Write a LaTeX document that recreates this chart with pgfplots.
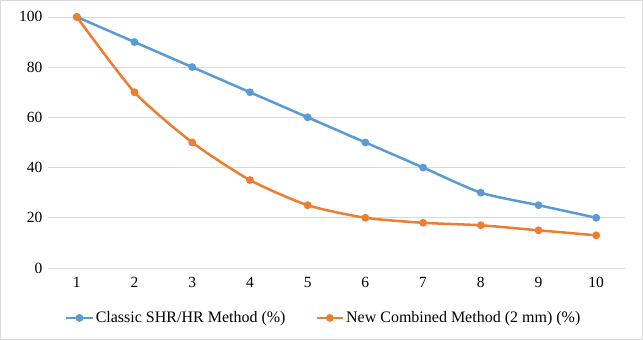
\documentclass[border=0pt]{standalone}
\usepackage{pgfplots}
\pgfplotsset{compat=1.18}
\usepackage{fontspec}
\setmainfont{Liberation Serif}
\definecolor{cblue}{HTML}{5B9BD5}
\definecolor{corange}{HTML}{ED7D31}
\definecolor{cgrid}{HTML}{D9D9D9}
\begin{document}
\begin{tikzpicture}
\draw[cgrid, line width=0.8pt, fill=white] (0.5pt,0.5pt) rectangle (642.5pt,339.5pt);
\begin{axis}[
  at={(48pt,72pt)}, anchor=south west,
  scale only axis, width=577pt, height=251pt,
  xmin=0.5, xmax=10.5, ymin=0, ymax=100,
  xtick={1,...,10}, ytick={0,20,...,100},
  axis line style={draw=none},
  major tick style={draw=none},
  ymajorgrids, grid style={cgrid, line width=0.8pt},
  clip=false,
  tick label style={font=\fontsize{15.5}{17}\selectfont, /pgf/number format/assume math mode=true},
  xticklabel style={yshift=-6pt},
  yticklabel style={xshift=-2pt},
  legend columns=2,
  legend style={at={(0.478,-0.199)}, anchor=center, draw=none, fill=none,
    font=\fontsize{16}{18}\selectfont,
    /tikz/every even column/.append style={column sep=28pt}},
  legend image code/.code={
    \draw[#1, line width=2.5pt] (0pt,0pt) -- (26pt,0pt);
    \fill[#1] (13pt,0pt) circle (2.6pt);
  },
]
\addplot[cblue, line width=2.5pt, smooth, tension=0.4, mark=*, mark size=2.6pt, mark options={fill=cblue, draw=cblue}]
  coordinates {(1,100) (2,90) (3,80) (4,70) (5,60) (6,50) (7,40) (8,30) (9,25) (10,20)};
\addlegendentry{Classic SHR/HR Method (\%)}
\addplot[corange, line width=2.5pt, smooth, tension=0.4, mark=*, mark size=2.6pt, mark options={fill=corange, draw=corange}]
  coordinates {(1,100) (2,70) (3,50) (4,35) (5,25) (6,20) (7,18) (8,17) (9,15) (10,13)};
\addlegendentry{New Combined Method (2 mm) (\%)}
\end{axis}
\end{tikzpicture}
\end{document}
